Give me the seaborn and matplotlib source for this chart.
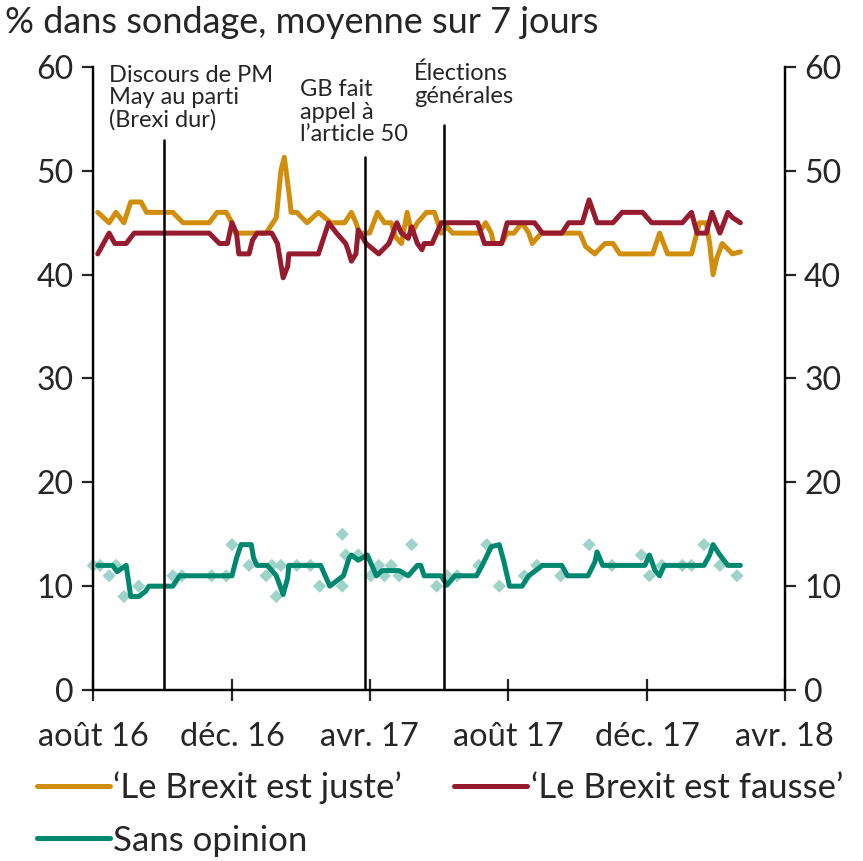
import pandas as pd
import matplotlib.pyplot as plt
import seaborn as sns


# 'Le Brexit est juste'
juste_dates = ['2016-08-05', '2016-08-15', '2016-08-21', '2016-08-28', '2016-09-03', '2016-09-12',
               '2016-09-17', '2016-10-10', '2016-10-19', '2016-11-11', '2016-11-18', '2016-11-26',
               '2016-12-01', '2016-12-04', '2016-12-31', '2017-01-09', '2017-01-13', '2017-01-16',
               '2017-01-20', '2017-01-22', '2017-01-27', '2017-02-05', '2017-02-15', '2017-02-26',
               '2017-03-10', '2017-03-16', '2017-03-20', '2017-03-23', '2017-04-01', '2017-04-08',
               '2017-04-14', '2017-04-20', '2017-04-24', '2017-04-29', '2017-05-04', '2017-05-08',
               '2017-05-13', '2017-05-21', '2017-05-28', '2017-06-03', '2017-06-08', '2017-06-13',
               '2017-07-06', '2017-07-12', '2017-07-17', '2017-07-19', '2017-07-26', '2017-07-31',
               '2017-08-06', '2017-08-13', '2017-08-19', '2017-08-22', '2017-08-30', '2017-10-03',
               '2017-10-08', '2017-10-16', '2017-10-25', '2017-11-01', '2017-11-07', '2017-12-06',
               '2017-12-12', '2017-12-19', '2018-01-09', '2018-01-16', '2018-01-22', '2018-01-25',
               '2018-01-28', '2018-01-31', '2018-02-05', '2018-02-14', '2018-02-21']
juste_vals = [46, 45, 46, 45, 47, 47,
              46, 46, 45, 45, 46, 46,
              45, 44, 44, 45.5, 50, 51.3,
              48, 46, 46, 45, 46, 45,
              45, 46, 45, 44, 44, 46,
              45, 45, 43.6, 43, 46, 44,
              45, 46, 46, 44, 44.6, 44,
              44, 45, 44, 43, 43, 44,
              44, 45, 44, 43, 44, 44,
              42.7, 42, 43, 43, 42, 42,
              44, 42, 42, 45, 45, 43,
              40, 41.5, 43, 42, 42.2]

# 'Le Brexit est fausse'
fausse_dates = ['2016-08-05', '2016-08-15', '2016-08-20', '2016-08-30', '2016-09-06', '2016-11-11',
                '2016-11-20', '2016-11-27', '2016-12-01', '2016-12-05', '2016-12-07', '2016-12-16',
                '2016-12-19', '2016-12-23', '2017-01-05', '2017-01-10', '2017-01-13', '2017-01-15',
                '2017-01-19', '2017-01-20', '2017-02-15', '2017-02-24', '2017-03-03', '2017-03-11',
                '2017-03-13', '2017-03-16', '2017-03-20', '2017-03-22', '2017-03-29', '2017-04-09',
                '2017-04-18', '2017-04-25', '2017-04-29', '2017-05-05', '2017-05-08', '2017-05-13',
                '2017-05-17', '2017-05-19', '2017-05-26', '2017-06-03', '2017-07-05', '2017-07-11',
                '2017-07-26', '2017-07-31', '2017-08-24', '2017-08-31', '2017-09-17', '2017-09-23',
                '2017-10-05', '2017-10-11', '2017-10-18', '2017-11-01', '2017-11-09', '2017-11-27',
                '2017-12-05', '2018-01-01', '2018-01-09', '2018-01-14', '2018-01-22', '2018-01-27',
                '2018-02-03', '2018-02-10', '2018-02-14', '2018-02-21']
fausse_vals = [42, 44, 43, 43, 44, 44,
               43, 43, 45, 44, 42, 42,
               43.3, 44, 44, 43, 41, 39.7,
               40.8, 42, 42, 45, 44, 43,
               42.4, 41.3, 42, 44.3, 43, 42,
               43, 45, 44, 43.5, 44.6, 43,
               42.4, 43, 43, 45, 45, 43,
               43, 45, 45, 44, 44, 45,
               45, 47.2, 45, 45, 46, 46,
               45, 45, 46, 44, 44, 46,
               44, 46, 45.5, 45]

# Sans opinion (moyenne)
sans_dates = ['2016-08-05', '2016-08-18', '2016-08-22', '2016-08-30', '2016-09-03', '2016-09-10',
              '2016-09-16', '2016-09-19', '2016-10-10', '2016-10-16', '2016-12-01', '2016-12-05',
              '2016-12-09', '2016-12-18', '2016-12-20', '2016-12-23', '2017-01-01', '2017-01-09',
              '2017-01-15', '2017-01-19', '2017-01-20', '2017-02-17', '2017-02-21', '2017-02-25',
              '2017-03-03', '2017-03-09', '2017-03-14', '2017-03-16', '2017-03-22', '2017-03-30',
              '2017-04-03', '2017-04-07', '2017-04-12', '2017-04-27', '2017-05-05', '2017-05-13',
              '2017-05-16', '2017-05-19', '2017-06-03', '2017-06-08', '2017-06-15', '2017-07-04',
              '2017-07-09', '2017-07-17', '2017-07-24', '2017-07-28', '2017-08-02', '2017-08-13',
              '2017-08-19', '2017-08-31', '2017-09-17', '2017-09-22', '2017-10-10', '2017-10-16',
              '2017-10-18', '2017-10-23', '2017-11-29', '2017-12-03', '2017-12-08', '2017-12-12',
              '2017-12-16', '2018-01-20', '2018-01-25', '2018-01-28', '2018-02-03', '2018-02-10',
              '2018-02-21']
sans_vals = [12, 12, 11.4, 12, 9, 9,
             9.5, 10, 10, 11, 11, 12.7,
             14, 14, 12.7, 12, 12, 11,
             9.2, 10.8, 12, 12, 11, 10,
             10.5, 11, 12.7, 13, 12.5, 13,
             12, 11, 11.5, 11.5, 11, 12,
             12, 11, 11, 10.1, 11, 11,
             12, 13.8, 14, 12.4, 10, 10,
             11, 12, 12, 11, 11, 12.3,
             13.3, 12, 12, 13, 11.5, 11,
             12, 12, 13, 14, 13, 12,
             12]

# Sans opinion (sondages individuels)
poll_dates = ['2016-08-01', '2016-08-07', '2016-08-15', '2016-08-21', '2016-08-28', '2016-09-10',
              '2016-10-10', '2016-10-18', '2016-11-13', '2016-11-26', '2016-12-01', '2016-12-16',
              '2016-12-31', '2017-01-05', '2017-01-09', '2017-01-13', '2017-01-27', '2017-02-08',
              '2017-02-16', '2017-03-08', '2017-03-08', '2017-03-11', '2017-03-22', '2017-04-02',
              '2017-04-09', '2017-04-14', '2017-04-20', '2017-04-27', '2017-05-08', '2017-05-30',
              '2017-06-08', '2017-06-17', '2017-07-06', '2017-07-13', '2017-07-24', '2017-08-15',
              '2017-08-26', '2017-09-16', '2017-10-11', '2017-10-31', '2017-11-26', '2017-12-03',
              '2017-12-14', '2018-01-01', '2018-01-09', '2018-01-20', '2018-02-03', '2018-02-18']
poll_vals = [12, 12, 11, 12, 9, 10,
             11, 11, 11, 11, 14, 12,
             11, 12, 9, 12, 12, 12,
             10, 10, 15, 13, 13, 11,
             12, 11, 12, 11, 14, 10,
             11, 11, 12, 14, 10, 11,
             12, 11, 14, 12, 13, 11,
             12, 12, 12, 14, 12, 11]

events = ['2016-10-02', '2017-03-28', '2017-06-05']
event_tops = [53, 51.3, 54.4]
event_labels = ['Discours de PM\nMay au parti\n(Brexi dur)', 'GB fait\nappel à\nl\u2019article 50',
                '\u00c9lections\ng\u00e9n\u00e9rales']
label_dates = ['2016-08-15', '2017-01-30', '2017-05-10']
label_tops = [60.2, 58.8, 60.4]

tick_dates = ['2016-08-01', '2016-12-01', '2017-04-01', '2017-08-01', '2017-12-01', '2018-04-01']
tick_labels = ['août 16', 'déc. 16', 'avr. 17', 'août 17', 'déc. 17', 'avr. 18']

gold = '#D18E0C'
red = '#971B2F'
teal = '#00876F'
light_teal = '#9DD3C8'

sns.set_style('ticks')
plt.rcParams['font.family'] = ['Lato', 'DejaVu Sans']

juste = pd.DataFrame({'date': pd.to_datetime(juste_dates), 'val': juste_vals})
fausse = pd.DataFrame({'date': pd.to_datetime(fausse_dates), 'val': fausse_vals})
sans = pd.DataFrame({'date': pd.to_datetime(sans_dates), 'val': sans_vals})
polls = pd.DataFrame({'date': pd.to_datetime(poll_dates), 'val': poll_vals})

fig = plt.figure(figsize=(8.63, 8.61), dpi=100)
ax = fig.add_axes([0.108, 0.1986, 0.8013, 0.7236])

sns.scatterplot(data=polls, x='date', y='val', marker='D', s=45, color=light_teal,
                edgecolor='none', ax=ax, zorder=2, clip_on=False)
sns.lineplot(data=juste, x='date', y='val', color=gold, lw=3.6, ax=ax, zorder=3,
             label='\u2018Le Brexit est juste\u2019')
sns.lineplot(data=fausse, x='date', y='val', color=red, lw=3.6, ax=ax, zorder=4,
             label='\u2018Le Brexit est fausse\u2019')
sns.lineplot(data=sans, x='date', y='val', color=teal, lw=3.6, ax=ax, zorder=4,
             label='Sans opinion')

# lignes verticales des événements
for d, top in zip(events, event_tops):
    dt = pd.Timestamp(d)
    ax.plot([dt, dt], [0, top], color='black', lw=1.8, zorder=5)
for d, ty, lab in zip(label_dates, label_tops, event_labels):
    ax.text(pd.Timestamp(d), ty, lab, fontsize=17, va='top', linespacing=1.07, clip_on=False)

ax.set_xlim(pd.Timestamp('2016-08-01'), pd.Timestamp('2018-04-01'))
ax.set_ylim(0, 60)
ax.set_yticks(range(0, 61, 10))
ax.set_xticks(pd.to_datetime(tick_dates))
ax.set_xticklabels(tick_labels)
ax.set_xlabel('')
ax.set_ylabel('')
ax.tick_params(axis='x', direction='inout', length=16, width=1.6, labelsize=23.5, pad=15)
ax.tick_params(axis='y', direction='out', length=8, width=1.6, labelsize=23, pad=6)

ax2 = ax.twinx()
ax2.set_ylim(0, 60)
ax2.set_yticks(range(0, 61, 10))
ax2.tick_params(axis='y', direction='out', length=8, width=1.6, labelsize=23, pad=6)

for a in (ax, ax2):
    a.spines['top'].set_visible(False)
    for s in ('left', 'right', 'bottom'):
        a.spines[s].set_linewidth(1.6)
        a.spines[s].set_color('black')

handles, labels = ax.get_legend_handles_labels()
ax.get_legend().remove()
order = [0, 2, 1]
fig.legend([handles[i] for i in order], [labels[i] for i in order], ncol=2, loc='upper left',
           bbox_to_anchor=(0.043, 0.1045), frameon=False, fontsize=25, handlelength=2.1,
           handletextpad=0.1, columnspacing=1.5, labelspacing=0.6, borderaxespad=0, borderpad=0)

fig.text(0.006, 0.962, '% dans sondage, moyenne sur 7 jours', fontsize=26, va='baseline')

fig.savefig('out.png', dpi=100)
